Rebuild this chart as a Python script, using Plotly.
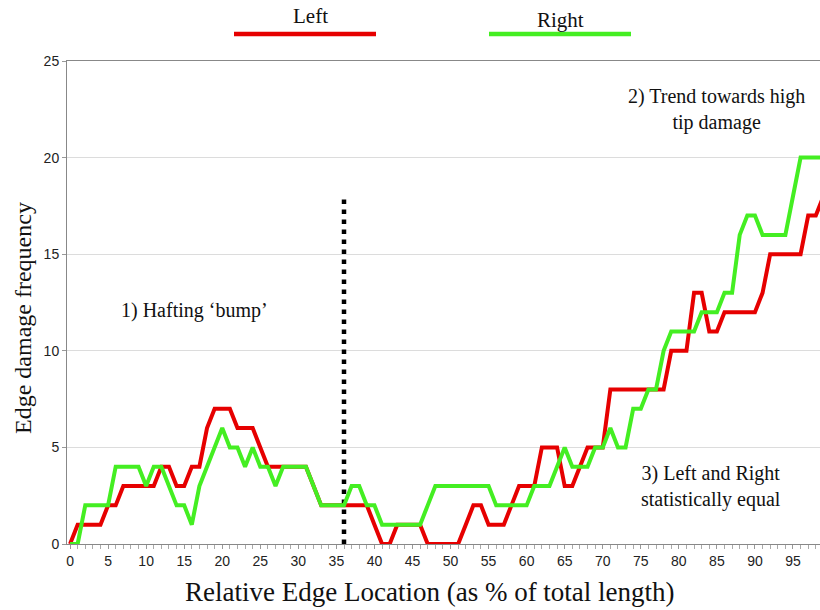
import plotly.graph_objects as go

# ---- data -------------------------------------------------------------
location = list(range(0, 100))  # relative edge location (% of total length)

left_freq = [
    0, 1, 1, 1, 1, 2, 2, 3, 3, 3,
    3, 3, 4, 4, 3, 3, 4, 4, 6, 7,
    7, 7, 6, 6, 6, 5, 4, 4, 4, 4,
    4, 4, 3, 2, 2, 2, 2, 2, 2, 2,
    1, 0, 0, 1, 1, 1, 1, 0, 0, 0,
    0, 0, 1, 2, 2, 1, 1, 1, 2, 3,
    3, 3, 5, 5, 5, 3, 3, 4, 5, 5,
    5, 8, 8, 8, 8, 8, 8, 8, 8, 10,
    10, 10, 13, 13, 11, 11, 12, 12, 12, 12,
    12, 13, 15, 15, 15, 15, 15, 17, 17, 18,
]

right_freq = [
    0, 0, 2, 2, 2, 2, 4, 4, 4, 4,
    3, 4, 4, 3, 2, 2, 1, 3, 4, 5,
    6, 5, 5, 4, 5, 4, 4, 3, 4, 4,
    4, 4, 3, 2, 2, 2, 2, 3, 3, 2,
    2, 1, 1, 1, 1, 1, 1, 2, 3, 3,
    3, 3, 3, 3, 3, 3, 2, 2, 2, 2,
    2, 3, 3, 3, 4, 5, 4, 4, 4, 5,
    5, 6, 5, 5, 7, 7, 8, 8, 10, 11,
    11, 11, 11, 12, 12, 12, 13, 13, 16, 17,
    17, 16, 16, 16, 16, 18, 20, 20, 20, 20,
]

x_tick_vals = list(range(0, 100, 5))
y_tick_vals = [0, 5, 10, 15, 20, 25]

divider_x = [36, 36]
divider_y = [0, 18]

series_names = ["Left", "Right"]
series_colors = ["#e60000", "#44ee22"]

# ---- geometry (page pixels) ------------------------------------------
W, H = 820, 610
PLOT_L, PLOT_R, PLOT_T, PLOT_B = 67, 820, 61, 544
ML, MR, MT, MB = PLOT_L, W - PLOT_R, PLOT_T, H - PLOT_B
PW, PH = W - ML - MR, H - MT - MB


def px(xp):
    return (xp - PLOT_L) / PW


def py(yp):
    return (PLOT_B - yp) / PH


serif = "Liberation Serif"
sans = "Liberation Sans"

fig = go.Figure()

fig.add_trace(go.Scatter(
    x=divider_x, y=divider_y, mode="lines",
    line=dict(color="black", width=4.5, dash="4.5px,5.5px"),
    showlegend=False, hoverinfo="skip", cliponaxis=False,
))

for name, ys, col in zip(series_names, [left_freq, right_freq], series_colors):
    fig.add_trace(go.Scatter(
        x=location, y=ys, mode="lines", name=name,
        line=dict(color=col, width=4),
        showlegend=False, cliponaxis=False,
    ))

# legend made of short lines with labels above
legend_spans = [(234, 376), (489, 631)]
legend_text_pos = [(310, 16), (560, 20)]
for (x0, x1), col in zip(legend_spans, series_colors):
    fig.add_shape(type="line", xref="paper", yref="paper",
                  x0=px(x0), x1=px(x1), y0=py(34), y1=py(34),
                  line=dict(color=col, width=4.5))
for (tx, ty), name in zip(legend_text_pos, series_names):
    fig.add_annotation(text=name, xref="paper", yref="paper",
                       x=px(tx), y=py(ty), showarrow=False,
                       xanchor="center", yanchor="middle",
                       font=dict(family=serif, size=21, color="#111"))

# axis titles
fig.add_annotation(text="Edge damage frequency", xref="paper", yref="paper",
                   x=px(23), y=py(318), textangle=-90, showarrow=False,
                   xanchor="center", yanchor="middle",
                   font=dict(family=serif, size=24, color="#111"))
fig.add_annotation(text="Relative Edge Location (as % of total length)",
                   xref="paper", yref="paper", x=px(430), y=py(592),
                   showarrow=False, xanchor="center", yanchor="middle",
                   font=dict(family=serif, size=27, color="#111"))

# callouts
notes = [
    ("1) Hafting \u2018bump\u2019", 16.3, 12.1),
    ("2) Trend towards high<br>tip damage", 85.0, 22.5),
    ("3) Left and Right<br>statistically equal", 84.2, 3.0),
]
for txt, nx, ny in notes:
    fig.add_annotation(text=txt, x=nx, y=ny, xref="x", yref="y",
                       showarrow=False, xanchor="center", yanchor="middle",
                       font=dict(family=serif, size=20, color="#111"))

fig.update_layout(
    width=W, height=H,
    margin=dict(l=ML, r=MR, t=MT, b=MB, pad=0),
    paper_bgcolor="white", plot_bgcolor="white",
    showlegend=False,
)

fig.update_xaxes(
    range=[-0.4, 98.55],
    tickvals=x_tick_vals,
    ticks="outside", ticklen=4, tickcolor="#999", tickwidth=1,
    minor=dict(dtick=1, tick0=0, ticks="outside", ticklen=4,
               tickcolor="#aaa", tickwidth=1, showgrid=False),
    showline=True, linecolor="#888", linewidth=1, mirror=True,
    showgrid=False, zeroline=False,
    tickfont=dict(family=sans, size=14, color="#222"),
)
fig.update_yaxes(
    range=[0, 25],
    tickvals=y_tick_vals,
    ticks="outside", ticklen=4, tickcolor="#999", tickwidth=1,
    showline=True, linecolor="#888", linewidth=1,
    showgrid=True, gridcolor="#dcdcdc", gridwidth=1,
    zeroline=False,
    tickfont=dict(family=sans, size=14, color="#222"),
)

fig.write_html(
    "out.html",
    config={"displayModeBar": False},
    post_script="document.body.style.margin='0';document.body.style.overflow='hidden';",
)
